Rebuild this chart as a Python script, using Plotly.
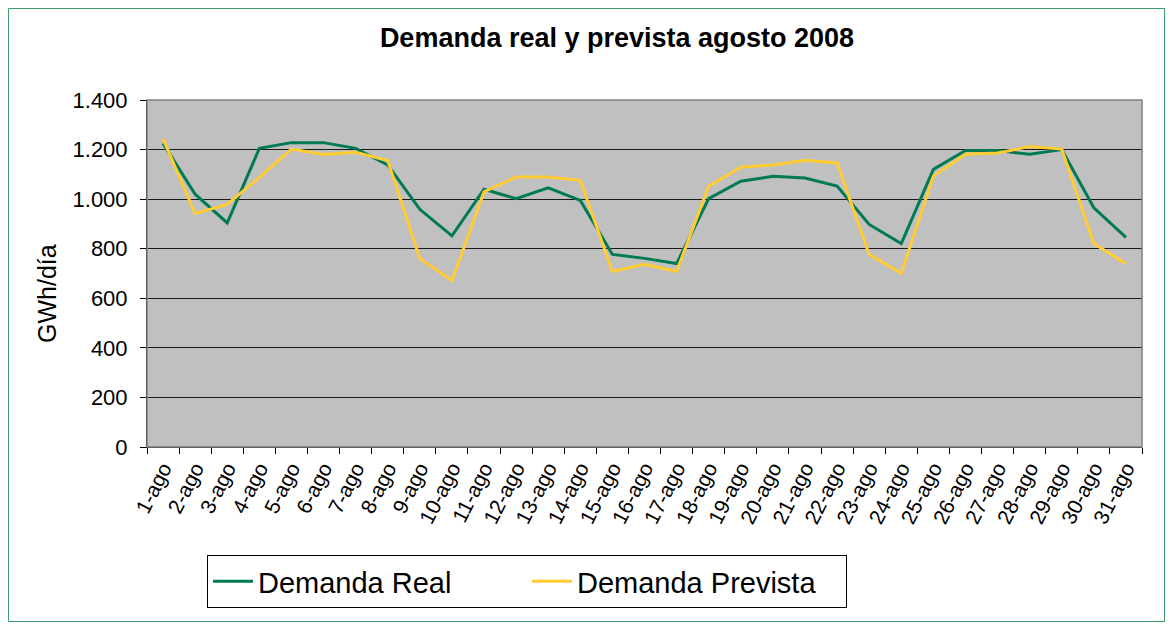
import plotly.graph_objects as go

dias = [f"{i}-ago" for i in range(1, 32)]
demanda_real = [1225, 1020, 904, 1205, 1228, 1228, 1205, 1138, 959, 852,
                1040, 1002, 1046, 995, 777, 761, 740, 1002, 1072, 1092,
                1085, 1053, 898, 821, 1120, 1196, 1196, 1181, 1200, 965, 846]
demanda_prevista = [1243, 942, 979, 1088, 1202, 1180, 1189, 1156, 761, 671,
                    1029, 1089, 1089, 1076, 708, 737, 708, 1052, 1129, 1138,
                    1157, 1146, 777, 701, 1093, 1181, 1186, 1212, 1202, 821, 739]
y_ticks = [0, 200, 400, 600, 800, 1000, 1200, 1400]

# The page body has an 8px margin, so figure coords = screen coords - 8
OFF = 8
W, H = 1173 - 2 * OFF, 630 - 2 * OFF
L, R, T, B = 147 - OFF, 1142 - OFF, 100 - OFF, 447 - OFF
pw, ph = R - L, B - T

def px(x):
    return (x - L) / pw

def py(y):
    return (B - y) / ph

FONT = "Arial, Liberation Sans, sans-serif"

fig = go.Figure()
fig.add_trace(go.Scatter(x=dias, y=demanda_real, mode="lines", name="Demanda Real",
                         line=dict(color="#007A55", width=3)))
fig.add_trace(go.Scatter(x=dias, y=demanda_prevista, mode="lines", name="Demanda Prevista",
                         line=dict(color="#FFCC33", width=3)))

fig.update_layout(
    width=W, height=H,
    margin=dict(l=L, r=W - R, t=T, b=H - B),
    paper_bgcolor="white",
    plot_bgcolor="#C0C0C0",
    separators=",.",
    font=dict(family=FONT, color="black"),
    title=dict(text="<b>Demanda real y prevista agosto 2008</b>",
               x=px(617 - OFF), xanchor="center", xref="paper",
               y=1 - (38 - OFF) / H, yanchor="middle",
               font=dict(size=27, family=FONT)),
    showlegend=True,
    legend=dict(orientation="h", x=px(207 - OFF), y=py(555 - OFF),
                xanchor="left", yanchor="top",
                bordercolor="black", borderwidth=1, bgcolor="white",
                font=dict(size=29, family=FONT),
                entrywidth=264, itemwidth=40),
    shapes=[
        dict(type="rect", xref="paper", yref="paper",
             x0=px(0.5), x1=px(W - 0.5), y0=py(H - 0.5), y1=py(0.5),
             line=dict(color="#3A9A6A", width=1), layer="below"),
        dict(type="rect", xref="paper", yref="paper",
             x0=0, x1=1, y0=0, y1=1,
             line=dict(color="#808080", width=1.5), layer="above"),
    ],
    annotations=[
        dict(text="GWh/día", xref="paper", yref="paper",
             x=px(47 - OFF), y=py(294 - OFF), xanchor="center", yanchor="middle",
             textangle=-90, showarrow=False, font=dict(size=25, family=FONT)),
    ],
)

fig.update_xaxes(
    type="category", tickangle=-63, tickson="boundaries",
    ticks="outside", ticklen=6, tickcolor="black",
    showline=True, linecolor="black", linewidth=1,
    showgrid=False,
    tickfont=dict(size=21, family=FONT),
    range=[-0.5, 30.5],
)
fig.update_yaxes(
    range=[0, 1400], tickvals=y_ticks, tickformat=",.0f",
    ticks="outside", ticklen=6, tickcolor="black",
    showline=True, linecolor="black", linewidth=1,
    showgrid=True, gridcolor="#1a1a1a", gridwidth=1,
    zeroline=False, ticklabelstandoff=8,
    tickfont=dict(size=22, family=FONT),
)

fig.write_html("out.html")
